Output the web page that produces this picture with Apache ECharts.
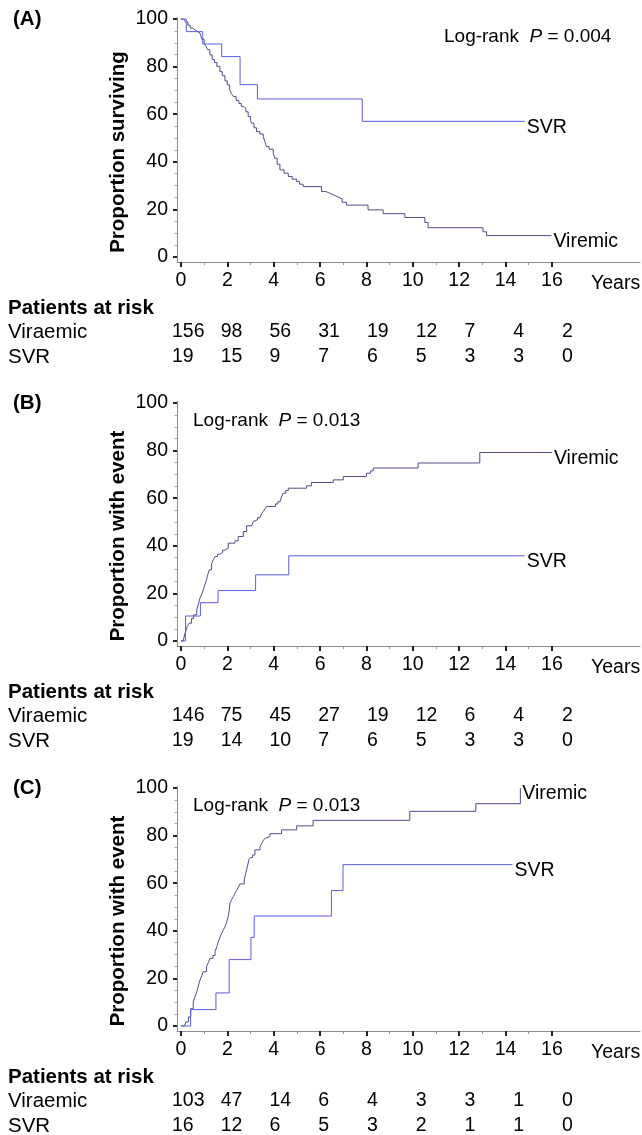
<!DOCTYPE html>
<html><head><meta charset="utf-8">
<script src="https://cdn.jsdelivr.net/npm/echarts@6/dist/echarts.min.js"></script>
<style>html,body{margin:0;padding:0;background:#fff}#c{width:642px;height:1135px}</style>
</head><body><div id="c"></div>
<script>
// ---------- data ----------
const xTicks = [0, 2, 4, 6, 8, 10, 12, 14, 16];
const xMinorTicks = [1, 3, 5, 7, 9, 11, 13, 15];
const yTicks = [0, 20, 40, 60, 80, 100];
const yMinorTicks = [5,10,15,25,30,35,45,50,55,65,70,75,85,90,95];
const panelLetters = ['(A)', '(B)', '(C)'];
const yTitles = ['Proportion surviving', 'Proportion with event', 'Proportion with event'];
const logRankP = ['0.004', '0.013', '0.013'];
const groupNames = ['Viremic', 'SVR'];
const riskRowNames = ['Viraemic', 'SVR'];
const riskTitle = 'Patients at risk';
const xUnit = 'Years';

const riskA_vir = [156, 98, 56, 31, 19, 12, 7, 4, 2];
const riskA_svr = [19, 15, 9, 7, 6, 5, 3, 3, 0];
const riskB_vir = [146, 75, 45, 27, 19, 12, 6, 4, 2];
const riskB_svr = [19, 14, 10, 7, 6, 5, 3, 3, 0];
const riskC_vir = [103, 47, 14, 6, 4, 3, 3, 1, 0];
const riskC_svr = [16, 12, 6, 5, 3, 2, 1, 1, 0];

// [years, percent]  (value after each step)
const A_vir = [[0,100],[0.12,99.4],[0.2,98.7],[0.3,97.4],[0.4,96.2],[0.5,95.5],[0.6,94.8],[0.7,94.1],[0.82,93.3],[0.9,91.5],[1.0,89.8],[1.08,88.4],[1.15,87.1],[1.25,84.9],[1.35,83.0],[1.45,81.7],[1.55,80.1],[1.68,77.9],[1.78,76.2],[1.9,74.0],[2.0,72.3],[2.1,70.3],[2.18,68.6],[2.26,67.4],[2.38,65.8],[2.5,64.5],[2.6,63.3],[2.69,62.5],[2.8,61.0],[2.9,59.0],[3.0,57.3],[3.05,56.2],[3.15,54.3],[3.26,52.7],[3.4,51.7],[3.55,50.6],[3.62,48.5],[3.69,46.4],[3.8,45.3],[3.98,43.6],[4.05,41.5],[4.15,39.0],[4.27,36.6],[4.45,35.2],[4.63,33.8],[4.8,32.7],[4.99,31.7],[5.12,30.6],[5.27,29.6],[6.06,27.5],[6.25,26.8],[6.42,26.0],[6.6,25.2],[6.78,24.4],[6.95,23.0],[7.14,21.8],[8.07,19.8],[8.72,18.2],[9.66,16.6],[10.52,14.5],[10.66,12.3],[13.03,10.6],[13.18,9.0],[15.98,9.0]];
const A_svr = [[0,100],[0.23,94.7],[0.94,89.5],[1.76,84.2],[2.55,72.4],[3.3,66.4],[7.82,57.0],[14.83,57.0]];

const B_vir = [[0,0],[0.1,0.7],[0.17,3.2],[0.22,4.5],[0.27,6.0],[0.35,7.5],[0.46,9.5],[0.55,11],[0.68,13],[0.75,15.5],[0.82,18],[0.9,19.8],[0.96,21.5],[1.03,23.5],[1.1,25.7],[1.16,28],[1.22,29.9],[1.32,32.4],[1.4,34.2],[1.47,35.5],[1.58,36.5],[1.68,37.2],[1.8,38.2],[1.9,39],[2.04,41.1],[2.33,42.1],[2.47,43.9],[2.69,46],[2.83,48.4],[3.05,49.1],[3.12,50.2],[3.19,50.9],[3.3,51.8],[3.41,52.6],[3.48,53.5],[3.55,54.4],[3.62,55.5],[3.69,56.5],[4.08,57.6],[4.18,58.5],[4.27,59.3],[4.35,60.8],[4.41,62.1],[4.52,63.2],[4.63,64.2],[5.42,65.2],[5.63,66.6],[6.57,67.7],[7.0,69.1],[8.0,70.5],[8.18,71.5],[8.29,72.7],[10.23,74.8],[12.89,79.2],[16.0,79.2]];
const B_svr = [[0,0],[0.2,10.5],[0.84,16.1],[1.6,21.2],[3.22,27.8],[4.65,35.8],[14.83,35.8]];

const C_vir = [[0,0],[0.15,0.8],[0.22,1.7],[0.32,3.8],[0.42,7.3],[0.53,10.1],[0.6,12.2],[0.68,14.3],[0.75,16.8],[0.82,19.2],[0.9,21.2],[0.96,22.8],[1.1,24.9],[1.18,26.6],[1.25,28.4],[1.38,29.6],[1.47,31.2],[1.55,33.4],[1.61,35.4],[1.68,37.2],[1.75,38.9],[1.82,40.2],[1.9,41.7],[1.97,43.6],[2.04,45.9],[2.08,48.5],[2.11,51.5],[2.18,53.0],[2.26,54.4],[2.33,55.8],[2.4,56.9],[2.47,58.2],[2.54,59.7],[2.73,61.4],[2.78,63.5],[2.83,65.6],[2.88,67.6],[2.93,69.8],[3.0,70.8],[3.09,71.9],[3.19,74.0],[3.41,75.4],[3.48,76.7],[3.55,77.9],[3.62,78.8],[3.69,79.6],[3.84,80.8],[4.34,82.4],[4.99,84.1],[5.7,86.4],[9.87,90.2],[12.72,93.4],[14.64,100]];
const C_svr = [[0,0],[0.42,6.9],[1.51,13.9],[2.08,27.9],[3.02,37.2],[3.16,46.2],[6.49,56.9],[6.99,67.8],[14.3,67.8]];

const panelCurves = [[A_vir, A_svr], [B_vir, B_svr], [C_vir, C_svr]];
const panelRisk = [[riskA_vir, riskA_svr], [riskB_vir, riskB_svr], [riskC_vir, riskC_svr]];

// ---------- layout / style ----------
const FONT = '"Liberation Sans", Arial, Helvetica, sans-serif';
const panelY0 = [257, 641, 1026];   // pixel of y = 0 in each panel
const X_MIN = -0.17, X_MAX = 19.8, Y_MIN = -2.1, Y_MAX = 100.8, PX_Y = 2.38;
const GRID_LEFT = 177;
const lineColors = ['#4e4e88', '#5c5ce6'];
const axisGray = '#8c8c8c';

const grid = [], xAxis = [], yAxis = [], series = [], graphic = [];

panelY0.forEach((y0, p) => {
  grid.push({ left: GRID_LEFT, right: 2, top: y0 - Y_MAX * PX_Y, height: (Y_MAX - Y_MIN) * PX_Y });
  const baseX = { gridIndex: p, type: 'value', min: X_MIN, max: X_MAX, position: 'bottom', splitLine: { show: false } };
  xAxis.push(Object.assign({}, baseX, {
    axisLine: { show: true, onZero: false, lineStyle: { color: axisGray, width: 1 } },
    axisTick: { show: true, customValues: xTicks, length: 5, lineStyle: { color: '#222', width: 2 } },
    axisLabel: { show: true, customValues: xTicks, margin: 9, fontSize: 19.5, color: '#000', fontFamily: FONT }
  }));
  xAxis.push(Object.assign({}, baseX, {
    axisLine: { show: false, onZero: false },
    axisTick: { show: true, customValues: xMinorTicks, length: 3, lineStyle: { color: '#999', width: 1 } },
    axisLabel: { show: false }
  }));
  const baseY = { gridIndex: p, type: 'value', min: Y_MIN, max: Y_MAX, position: 'left', splitLine: { show: false } };
  yAxis.push(Object.assign({}, baseY, {
    axisLine: { show: true, onZero: false, lineStyle: { color: axisGray, width: 1 } },
    axisTick: { show: true, customValues: yTicks, length: 4, lineStyle: { color: '#222', width: 2 } },
    axisLabel: { show: true, customValues: yTicks, margin: 9, fontSize: 19.5, color: '#000', fontFamily: FONT }
  }));
  yAxis.push(Object.assign({}, baseY, {
    axisLine: { show: false, onZero: false },
    axisTick: { show: true, customValues: yMinorTicks, length: 2.5, lineStyle: { color: '#aaa', width: 1 } },
    axisLabel: { show: false }
  }));

  panelCurves[p].forEach((curve, g) => {
    series.push({
      type: 'line', name: groupNames[g], xAxisIndex: 2 * p, yAxisIndex: 2 * p,
      data: curve, step: 'end', showSymbol: false, symbol: 'none', silent: true,
      lineStyle: { color: lineColors[g], width: 1 },
      endLabel: { show: true, formatter: groupNames[g], color: '#000', fontSize: 19.5, fontFamily: FONT, distance: 2, offset: [0, 6] },
      animation: false
    });
  });

  // panel letter
  graphic.push({ type: 'text', x: 13, y: y0 - 238, silent: true,
    style: { text: panelLetters[p], font: 'bold 20.5px ' + FONT, fill: '#000', align: 'left', verticalAlign: 'middle', textAlign: 'left', textVerticalAlign: 'middle' } });
  // y title
  graphic.push({ type: 'text', x: 118, y: y0 - 105, rotation: Math.PI / 2, silent: true,
    style: { text: yTitles[p], font: 'bold 20.5px ' + FONT, fill: '#000', align: 'center', verticalAlign: 'middle', textAlign: 'center', textVerticalAlign: 'middle' } });
  // log-rank
  graphic.push({ type: 'text', x: p === 0 ? 444 : 193, y: y0 - 220, silent: true,
    style: { text: 'Log-rank  {i|P} = ' + logRankP[p], font: '19px ' + FONT, fill: '#000', align: 'left', verticalAlign: 'middle', textAlign: 'left', textVerticalAlign: 'middle',
      rich: { i: { fontStyle: 'italic', fontSize: 19, fontFamily: FONT, fill: '#000', color: '#000' } } } });
  // Years
  graphic.push({ type: 'text', x: 591, y: y0 + 27, silent: true,
    style: { text: xUnit, font: '19.5px ' + FONT, fill: '#000', align: 'left', verticalAlign: 'middle', textAlign: 'left', textVerticalAlign: 'middle' } });
  // risk table
  graphic.push({ type: 'text', x: 8, y: y0 + 51, silent: true,
    style: { text: riskTitle, font: 'bold 20.5px ' + FONT, fill: '#000', align: 'left', verticalAlign: 'middle', textAlign: 'left', textVerticalAlign: 'middle' } });
  panelRisk[p].forEach((row, r) => {
    const yy = y0 + 75 + r * 25;
    graphic.push({ type: 'text', x: 8, y: yy, silent: true,
      style: { text: riskRowNames[r], font: '20.5px ' + FONT, fill: '#000', align: 'left', verticalAlign: 'middle', textAlign: 'left', textVerticalAlign: 'middle' } });
    row.forEach((n, i) => {
      graphic.push({ type: 'text', x: 172 + 48.75 * i, y: yy, silent: true,
        style: { text: String(n), font: '19.5px ' + FONT, fill: '#000', align: 'left', verticalAlign: 'middle', textAlign: 'left', textVerticalAlign: 'middle' } });
    });
  });
});

const chart = echarts.init(document.getElementById('c'), null, { renderer: 'canvas', width: 642, height: 1135 });
chart.setOption({ animation: false, backgroundColor: '#fff', grid, xAxis, yAxis, series, graphic });
</script>
</body></html>
